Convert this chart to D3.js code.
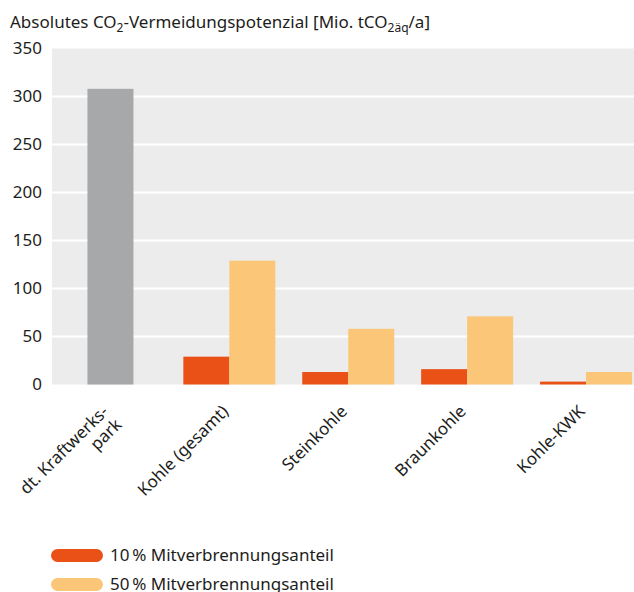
<!DOCTYPE html>
<html>
<head>
<meta charset="utf-8">
<script src="https://cdn.jsdelivr.net/npm/d3@7/dist/d3.min.js"></script>
<style>
  html, body { margin: 0; padding: 0; background: #fff; }
  svg { display: block; font-family: "Noto Sans", "Open Sans", sans-serif; }
</style>
</head>
<body>
<svg id="chart" width="634" height="592"></svg>
<script>
// Absolute CO2 avoidance potential, Mio. t CO2-eq per year
const categories = ["dt. Kraftwerks-\npark", "Kohle (gesamt)", "Steinkohle", "Braunkohle", "Kohle-KWK"];
const totalPark = [308, null, null, null, null];
const share10 = [null, 29, 13, 16, 3];
const share50 = [null, 129, 58, 71, 13];
const seriesNames = ["10\u202F% Mitverbrennungsanteil", "50\u202F% Mitverbrennungsanteil"];
const yTicks = [0, 50, 100, 150, 200, 250, 300, 350];

const colors = { grey: "#a7a8a9", orange: "#e95117", yellow: "#fbc677", bg: "#ebeceb", text: "#1d1d1b" };

const svg = d3.select("#chart");
const plot = { left: 52, right: 634, top: 48.5, bottom: 384.5 };
const barW = 46;
const fs = 17;

const x = d3.scaleBand().domain(categories).range([51, 645.5]).paddingInner(0).paddingOuter(0);
const y = d3.scaleLinear().domain([0, 350]).range([plot.bottom, plot.top]);

// plot background
svg.append("rect")
  .attr("x", plot.left).attr("y", plot.top)
  .attr("width", plot.right - plot.left).attr("height", plot.bottom - plot.top)
  .attr("fill", colors.bg);

// horizontal grid lines
svg.append("g").selectAll("line")
  .data(yTicks.filter(t => t > 0 && t < 350))
  .join("line")
  .attr("x1", plot.left).attr("x2", plot.right)
  .attr("y1", d => y(d)).attr("y2", d => y(d))
  .attr("stroke", "#fff").attr("stroke-width", 2.2);

// y axis labels
const yAxis = d3.axisLeft(y).tickValues(yTicks).tickSize(0).tickPadding(10);
const yg = svg.append("g").attr("transform", `translate(${plot.left},0)`).call(yAxis);
yg.select(".domain").remove();
yg.selectAll("text")
  .attr("fill", colors.text).attr("font-size", fs)
  .attr("font-family", "'Noto Sans', sans-serif");

const center = c => x(c) + x.bandwidth() / 2;

// single grey bar for the whole power plant fleet
svg.append("g").selectAll("rect")
  .data(categories.map((c, i) => ({ c, v: totalPark[i] })).filter(d => d.v != null))
  .join("rect")
  .attr("x", d => center(d.c) - barW / 2)
  .attr("y", d => y(d.v))
  .attr("width", barW)
  .attr("height", d => y(0) - y(d.v))
  .attr("fill", colors.grey);

// paired bars for the two co-firing shares
const sub = d3.scaleBand().domain(seriesNames).range([-barW, barW]);
const pairs = [];
categories.forEach((c, i) => {
  if (share10[i] != null) pairs.push({ c, s: seriesNames[0], v: share10[i], col: colors.orange });
  if (share50[i] != null) pairs.push({ c, s: seriesNames[1], v: share50[i], col: colors.yellow });
});
svg.append("g").selectAll("rect")
  .data(pairs)
  .join("rect")
  .attr("x", d => center(d.c) + sub(d.s))
  .attr("y", d => y(d.v))
  .attr("width", sub.bandwidth())
  .attr("height", d => y(0) - y(d.v))
  .attr("fill", d => d.col);

// rotated category labels
const lab = svg.append("g").selectAll("text")
  .data(categories)
  .join("text")
  .attr("transform", d => `translate(${center(d) - (d.includes("\n") ? 1 : 0)},${plot.bottom + 28}) rotate(-45)`)
  .attr("text-anchor", "end")
  .attr("font-size", fs)
  .attr("fill", colors.text);
lab.each(function (d) {
  const lines = d.split("\n");
  d3.select(this).selectAll("tspan")
    .data(lines)
    .join("tspan")
    .attr("x", 0)
    .attr("dy", (l, i) => i === 0 ? 0 : "1.1em")
    .text(l => l);
});

// title with subscripts
const title = svg.append("text")
  .attr("x", 10).attr("y", 28)
  .attr("font-size", fs)
  .attr("fill", colors.text);
title.append("tspan").text("Absolutes CO");
title.append("tspan").attr("font-size", 12).attr("dy", 4).text("2");
title.append("tspan").attr("dy", -4).text("-Vermeidungspotenzial [Mio. tCO");
title.append("tspan").attr("font-size", 12).attr("dy", 4).text("2äq");
title.append("tspan").attr("dy", -4).text("/a]");

// legend
const legend = svg.append("g").selectAll("g")
  .data(seriesNames.map((s, i) => ({ s, col: i === 0 ? colors.orange : colors.yellow, i })))
  .join("g")
  .attr("transform", d => `translate(51,${549 + d.i * 29})`);
legend.append("rect")
  .attr("width", 52).attr("height", 13).attr("rx", 6.5)
  .attr("fill", d => d.col);
legend.append("text")
  .attr("x", 59).attr("y", 11.5)
  .attr("font-size", fs)
  .attr("fill", colors.text)
  .text(d => d.s);
</script>
</body>
</html>
